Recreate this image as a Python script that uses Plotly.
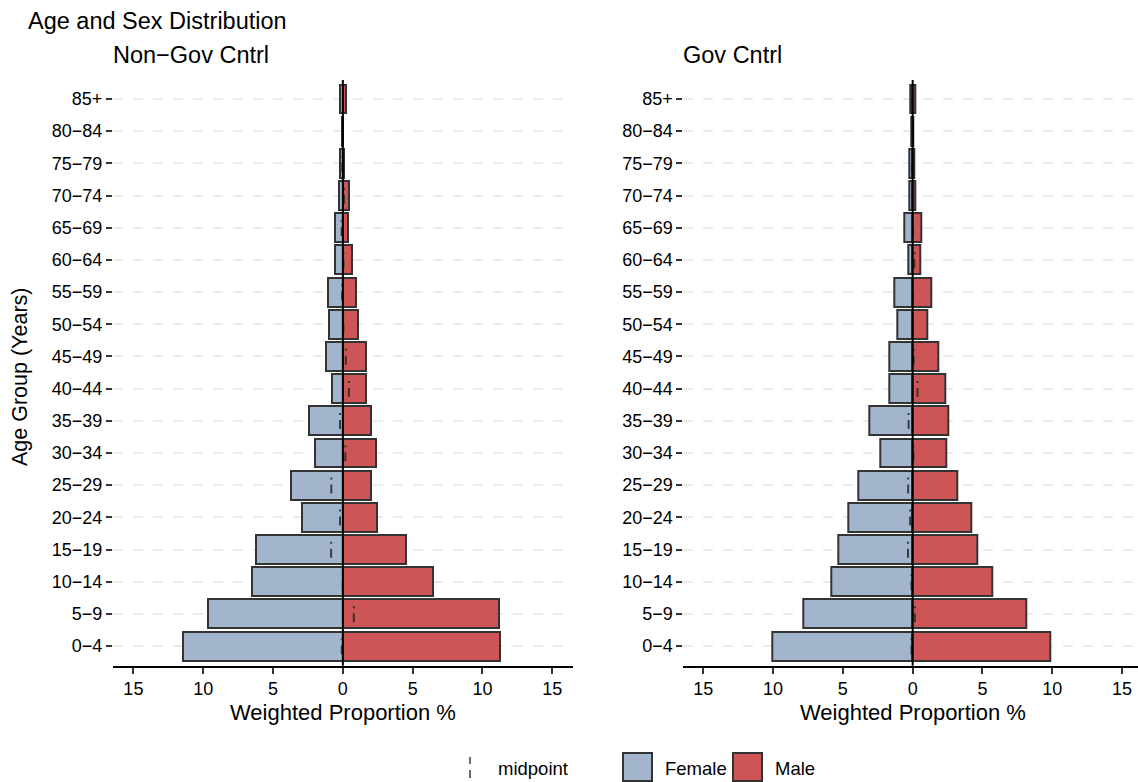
import plotly.graph_objects as go

# ---------------- data ----------------
ages = ["0\u22124", "5\u22129", "10\u221214", "15\u221219", "20\u221224", "25\u221229",
        "30\u221234", "35\u221239", "40\u221244", "45\u221249", "50\u221254", "55\u221259",
        "60\u221264", "65\u221269", "70\u221274", "75\u221279", "80\u221284", "85+"]

nongov_female = [11.42, 9.63, 6.50, 6.21, 2.89, 3.70, 1.98, 2.41, 0.79, 1.22,
                 1.00, 1.05, 0.53, 0.55, 0.26, 0.17, 0.03, 0.20]
nongov_male = [11.27, 11.20, 6.49, 4.53, 2.48, 2.05, 2.34, 2.00, 1.65, 1.65,
               1.07, 0.95, 0.62, 0.38, 0.43, 0.10, 0.02, 0.20]

gov_female = [10.03, 7.86, 5.85, 5.30, 4.58, 3.87, 2.29, 3.11, 1.65, 1.70,
              1.07, 1.34, 0.31, 0.60, 0.22, 0.26, 0.08, 0.20]
gov_male = [9.86, 8.17, 5.68, 4.63, 4.22, 3.22, 2.39, 2.53, 2.34, 1.84,
            1.07, 1.36, 0.55, 0.64, 0.22, 0.15, 0.02, 0.20]

panel_titles = ["Non\u2212Gov Cntrl", "Gov Cntrl"]
x_tickvals = [-15, -10, -5, 0, 5, 10, 15]
x_ticktext = ["15", "10", "5", "0", "5", "10", "15"]

# ---------------- style ----------------
W, H = 1138, 782
FONT = "Liberation Sans, Arial, sans-serif"
FEMALE_COL = "#A2B5CD"
MALE_COL = "#CD5555"
EDGE_COL = "#333333"
TICK_SIZE = 18


def fx(p):
    return p / W


def fy(p):
    return 1 - p / H


fig = go.Figure()

panels = [
    ("x", "y", nongov_female, nongov_male),
    ("x2", "y2", gov_female, gov_male),
]
idx = list(range(len(ages)))

for xa, ya, fem, mal in panels:
    fig.add_trace(go.Bar(
        y=idx, x=[-v for v in fem], orientation="h", width=0.9,
        marker=dict(color=FEMALE_COL, line=dict(color=EDGE_COL, width=2)),
        xaxis=xa, yaxis=ya, showlegend=False, name="Female"))
    fig.add_trace(go.Bar(
        y=idx, x=mal, orientation="h", width=0.9,
        marker=dict(color=MALE_COL, line=dict(color=EDGE_COL, width=2)),
        xaxis=xa, yaxis=ya, showlegend=False, name="Male"))
    # midpoint marks
    mx, my = [], []
    for i, (f, m) in enumerate(zip(fem, mal)):
        mid = (m - f) / 2.0
        mx += [mid, mid, None]
        my += [i + 0.24, i - 0.28, None]
    fig.add_trace(go.Scatter(
        x=mx, y=my, mode="lines", xaxis=xa, yaxis=ya, showlegend=False,
        line=dict(color="rgba(40,40,40,0.85)", width=2, dash="2px,5px,9px,40px"),
        hoverinfo="skip"))

ydom = [fy(665.7), fy(80)]
xdoms = [[fx(113), fx(572.7)], [fx(683.3), 1.0]]
xranges = [[-16.46, 16.46], [-16.43, 16.14]]

common_x = dict(
    tickvals=x_tickvals, ticktext=x_ticktext, ticks="outside", ticklen=6,
    tickwidth=2, tickcolor=EDGE_COL, showline=True, linecolor="black",
    linewidth=2, showgrid=False, zeroline=False,
    tickfont=dict(family=FONT, size=TICK_SIZE, color="black"), fixedrange=True)
common_y = dict(
    tickvals=idx, ticktext=ages, range=[-0.61, 17.59], ticks="outside",
    ticklen=6, tickwidth=2, tickcolor=EDGE_COL, showline=False,
    showgrid=True, gridcolor="#ebebeb", gridwidth=1.6, griddash="10px,10px",
    zeroline=False, tickfont=dict(family=FONT, size=TICK_SIZE, color="black"),
    fixedrange=True, domain=ydom)

fig.update_layout(
    xaxis=dict(domain=xdoms[0], range=xranges[0], anchor="y", **common_x),
    yaxis=dict(anchor="x", **common_y),
    xaxis2=dict(domain=xdoms[1], range=xranges[1], anchor="y2", **common_x),
    yaxis2=dict(anchor="x2", **common_y),
)

shapes = []
for xa, ya in [("x", "y"), ("x2", "y2")]:
    shapes.append(dict(type="line", xref=xa, yref=ya + " domain", x0=0, x1=0,
                       y0=0, y1=1, line=dict(color="black", width=2),
                       layer="above"))

# legend (drawn manually)
shapes.append(dict(type="line", xref="paper", yref="paper",
                   x0=fx(470), x1=fx(470), y0=fy(757), y1=fy(780),
                   line=dict(color="rgba(40,40,40,0.9)", width=1.5,
                             dash="7px,6px,8px")))
shapes.append(dict(type="rect", xref="paper", yref="paper",
                   x0=fx(623), x1=fx(652), y0=fy(781), y1=fy(753),
                   fillcolor=FEMALE_COL, line=dict(color=EDGE_COL, width=2)))
shapes.append(dict(type="rect", xref="paper", yref="paper",
                   x0=fx(733), x1=fx(762), y0=fy(781), y1=fy(753),
                   fillcolor=MALE_COL, line=dict(color=EDGE_COL, width=2)))

ann = []


def text(t, x, y, size, xanchor="left", angle=0):
    ann.append(dict(text=t, xref="paper", yref="paper", x=fx(x), y=fy(y),
                    xanchor=xanchor, yanchor="middle", showarrow=False,
                    textangle=angle,
                    font=dict(family=FONT, size=size, color="black")))


text("Age and Sex Distribution", 26, 21, 23.5)
text(panel_titles[0], 111, 55, 23.5)
text(panel_titles[1], 681, 55, 23.5)
text("Weighted Proportion %", 342.8, 712, 22, xanchor="center")
text("Weighted Proportion %", 913, 712, 22, xanchor="center")
text("Age Group (Years)", 20, 377, 21.5, xanchor="center", angle=-90)
text("midpoint", 496, 768, 18.5)
text("Female", 663, 768, 18.5)
text("Male", 773, 768, 18.5)

fig.update_layout(
    width=W, height=H, autosize=False,
    margin=dict(l=0, r=0, t=0, b=0, pad=0),
    paper_bgcolor="white", plot_bgcolor="white",
    barmode="relative", bargap=0, showlegend=False,
    shapes=shapes, annotations=ann,
    font=dict(family=FONT, color="black"),
)

fig.write_html("out.html", config={"displayModeBar": False},
               post_script="document.body.style.margin='0';document.body.style.overflow='hidden';")
